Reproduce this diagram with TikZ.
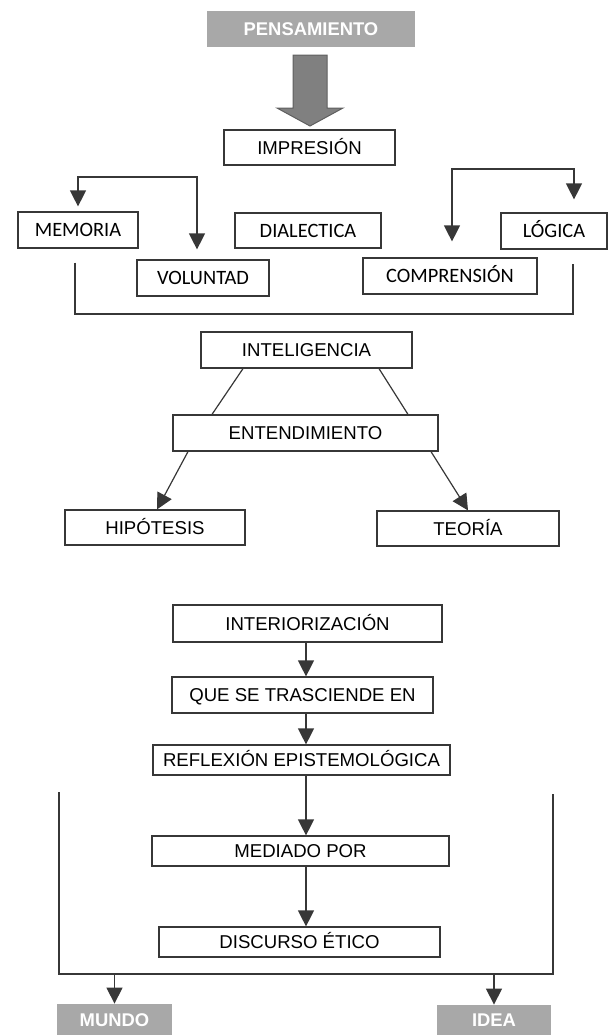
\documentclass[tikz,border=0pt]{standalone}
\usepackage{fontspec}
\setmainfont{Liberation Sans}
\newfontfamily\calfont{Carlito}
\usepackage{tikz}
\usetikzlibrary{arrows.meta, positioning, calc}
\definecolor{linegray}{RGB}{55, 55, 55}
\definecolor{boxgray}{RGB}{168, 168, 168}
\definecolor{arrowgray}{RGB}{128, 128, 128}
\definecolor{arrowedge}{RGB}{95, 95, 95}

\begin{document}
\begin{tikzpicture}[x=0.5pt, y=-0.5pt,
  box/.style={draw=linegray, line width=0.6pt, fill=white, minimum height=18pt, inner sep=0pt, text height=6.7pt, text depth=0pt, font=\fontsize{9.3}{11}\selectfont},
  cbox/.style={box, font=\calfont\fontsize{10.2}{12}\selectfont},
  graybox/.style={fill=boxgray, minimum height=18pt, inner sep=0pt, text height=6.6pt, text depth=0pt, text=white, font=\fontsize{9.2}{11}\selectfont\bfseries},
  line/.style={draw=linegray, line width=0.6pt},
  arrow/.style={line, -{Triangle[width=8pt, length=8pt]}},
  darrow/.style={line, {Triangle[width=8pt, length=8pt]}-{Triangle[width=8pt, length=8pt]}}
]
  \useasboundingbox (0,0) rectangle (608,1035);

  % Pensamiento
  \node[graybox, minimum width=104pt] (pens) at (311,29) {PENSAMIENTO};
  \filldraw[fill=arrowgray, draw=arrowedge, line width=0.5pt] (293,55) -- (327,55) -- (327,108) -- (343,108) -- (310,126) -- (277,108) -- (293,108) -- cycle;
  \node[box, minimum width=85.5pt, minimum height=17.5pt] (impr) at (309.5,147.5) {IMPRESI\'ON};

  % Facultades
  \node[cbox, minimum width=60pt] (memoria) at (78,230) {MEMORIA};
  \node[cbox, minimum width=73pt, minimum height=17.5pt] (dialec) at (308,230.5) {DIALECTICA};
  \node[cbox, minimum width=53pt] (logica) at (554,231) {L\'OGICA};
  \node[cbox, minimum width=66pt] (volunt) at (203,278) {VOLUNTAD};
  \node[cbox, minimum width=87pt] (compr) at (450,276) {COMPRENSI\'ON};

  \coordinate (lefttop) at (136,177);
  \coordinate (righttop) at (513,169);
  \coordinate (bracebot) at (324,314);
  \draw[darrow] ([yshift=2.5pt]memoria.north) |- (lefttop) -| ([xshift=-3pt, yshift=5pt]volunt.north);
  \draw[darrow] ([xshift=1pt, yshift=8pt]compr.north) |- (righttop) -| ([xshift=10pt, yshift=6.5pt]logica.north);
  \draw[line] ([xshift=-1.5pt, yshift=-7pt]memoria.south) |- (bracebot) -| ([xshift=9.5pt, yshift=-7pt]logica.south);

  % Inteligencia
  \node[box, minimum width=105.5pt] (intel) at (306.5,350) {INTELIGENCIA};
  \node[box, minimum width=132.5pt] (entend) at (305.5,433) {ENTENDIMIENTO};
  \node[box, minimum width=90pt, minimum height=17.5pt] (hipot) at (155,527.5) {HIP\'OTESIS};
  \node[box, minimum width=91pt, minimum height=17.5pt] (teoria) at (468,528.5) {TEOR\'IA};

  \draw[line] ([xshift=-31.75pt]intel.south) -- ([xshift=-46.75pt]entend.north);
  \draw[line] ([xshift=36.25pt]intel.south) -- ([xshift=51.25pt]entend.north);
  \draw[arrow] ([xshift=-58.75pt]entend.south) -- ([xshift=1pt]hipot.north);
  \draw[arrow] ([xshift=62.75pt]entend.south) -- (teoria.north);

  % Interiorizacion
  \coordinate (spine) at (306,0);
  \node[box, minimum width=134.5pt, minimum height=18.5pt] (inter) at (307.5,623.5) {INTERIORIZACI\'ON};
  \node[box, minimum width=130.5pt] (quese) at (302.5,695) {QUE SE TRASCIENDE EN};
  \node[box, minimum width=148.5pt, minimum height=15pt] (reflex) at (301.5,760) {REFLEXI\'ON EPISTEMOL\'OGICA};
  \node[box, minimum width=148.5pt, minimum height=15pt] (mediado) at (300.5,851) {MEDIADO POR};
  \node[box, minimum width=140.5pt, minimum height=15pt] (discurso) at (299.5,942) {DISCURSO \'ETICO};

  \draw[arrow] (inter.south -| spine) -- (quese.north -| spine);
  \draw[arrow] (quese.south -| spine) -- (reflex.north -| spine);
  \draw[arrow] (reflex.south -| spine) -- (mediado.north -| spine);
  \draw[arrow] (mediado.south -| spine) -- (discurso.north -| spine);

  % Mundo / Idea
  \node[graybox, minimum width=57.5pt, minimum height=15.5pt] (mundo) at (114.5,1019.5) {MUNDO};
  \node[graybox, minimum width=57pt, minimum height=15pt] (idea) at (494,1020) {IDEA};

  \coordinate (lowtl) at (59,792);
  \coordinate (lowtr) at (553,794);
  \coordinate (lowbl) at (59,974);
  \coordinate (lowbr) at (553,974);
  \draw[line] (lowtl) -- (lowbl) -- (lowbr) -- (lowtr);
  \draw[arrow] (mundo.north |- lowbl) -- (mundo.north);
  \draw[arrow] (idea.north |- lowbr) -- (idea.north);
\end{tikzpicture}
\end{document}
